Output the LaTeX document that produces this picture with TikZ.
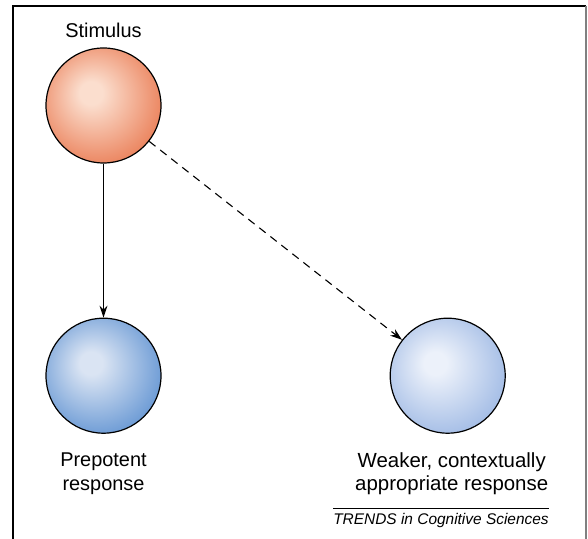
\documentclass[tikz,border=0pt]{standalone}
\usepackage{fontspec}
\setmainfont{Liberation Sans}
\usetikzlibrary{positioning, arrows.meta}

\definecolor{stimlight}{RGB}{251,222,206}
\definecolor{stimdark}{RGB}{232,114,72}
\definecolor{prelight}{RGB}{218,228,243}
\definecolor{predark}{RGB}{86,140,207}
\definecolor{weaklight}{RGB}{236,241,250}
\definecolor{weakdark}{RGB}{150,179,226}

\pgfdeclareradialshading{stimshade}{\pgfpoint{-6bp}{6bp}}{color(0bp)=(stimlight); color(5bp)=(stimlight); color(25bp)=(stimdark!70!stimlight); color(34bp)=(stimdark); color(50bp)=(stimdark)}
\pgfdeclareradialshading{preshade}{\pgfpoint{-6bp}{6bp}}{color(0bp)=(prelight); color(5bp)=(prelight); color(25bp)=(predark!70!prelight); color(34bp)=(predark); color(50bp)=(predark)}
\pgfdeclareradialshading{weakshade}{\pgfpoint{-6bp}{6bp}}{color(0bp)=(weaklight); color(5bp)=(weaklight); color(25bp)=(weakdark!70!weaklight); color(34bp)=(weakdark); color(50bp)=(weakdark)}

\begin{document}
\begin{tikzpicture}[
    x=1bp, y=1bp,
    neuron/.style={circle, draw=black, line width=1.2bp, minimum size=115bp, inner sep=0pt},
    caption/.style={font=\fontsize{20}{24}\selectfont, align=center, inner sep=2bp},
    arrow/.style={-{Stealth[length=12bp, width=8bp]}, line width=1.1bp}
]
\useasboundingbox (0,0) rectangle (588,539);

% Frame
\draw[line width=1.5bp] (13,0) -- (13,533) -- (586,533);
\draw[line width=2.5bp, gray] (586,533) -- (586,0);

% Neurons
\node[neuron, shading=stimshade] (stimulus) at (103.5,433.5) {};
\node[neuron, shading=preshade, below=154bp of stimulus] (prepotent) {};
\node[neuron, shading=weakshade, right=228bp of prepotent] (weaker) {};

% Labels
\node[caption, above=7bp of stimulus] (stimlabel) {Stimulus};
\node[caption, below=17bp of prepotent] (prelabel) {Prepotent\\response};
\node[caption, font=\fontsize{20.5}{23}\selectfont, below=17bp of weaker, xshift=4bp] (weaklabel) {Weaker, contextually\\appropriate response};

% Arrows
\draw[arrow] (stimulus) -- (prepotent);
\draw[arrow, dash pattern=on 8bp off 6bp] (stimulus) -- (weaker);

% Source line
\node[font=\fontsize{15.5}{18}\selectfont\itshape, inner xsep=0pt, inner ysep=2bp] (trends) at (441,18.5) {TRENDS in Cognitive Sciences};
\draw[line width=0.8bp] ([yshift=3bp]trends.north west) -- ([yshift=3bp]trends.north east);

\end{tikzpicture}
\end{document}
